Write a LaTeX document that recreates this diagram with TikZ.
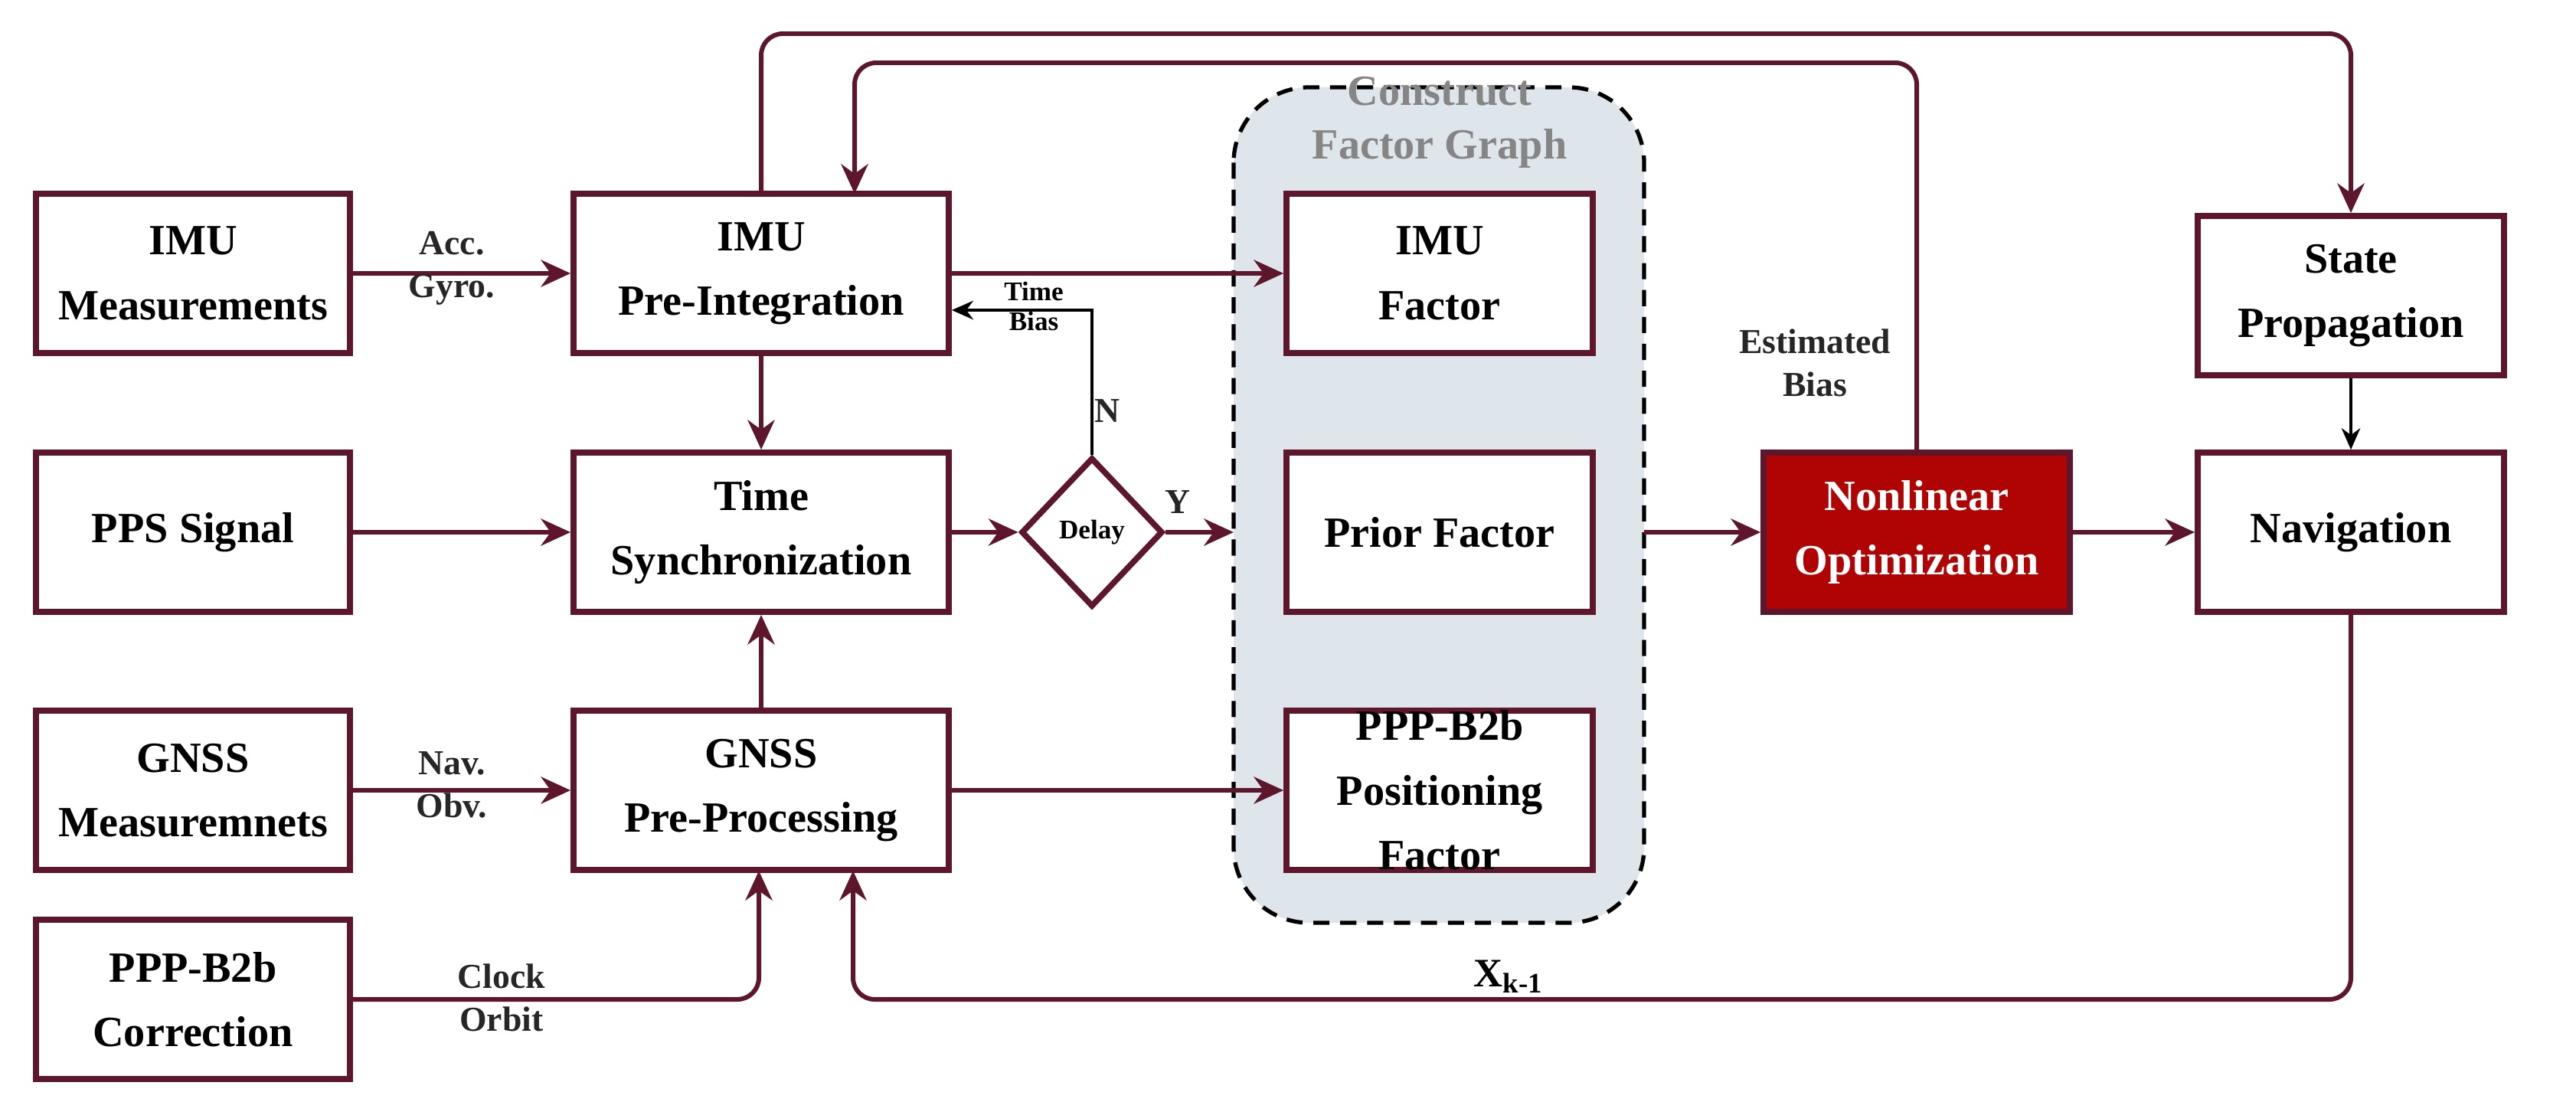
\documentclass[tikz,border=0pt]{standalone}
\usepackage{fontspec}
\setmainfont{Liberation Serif}
\usetikzlibrary{arrows.meta,shapes.geometric,backgrounds}
\definecolor{wine}{RGB}{94,22,44}
\definecolor{optred}{RGB}{176,4,4}
\definecolor{groupfill}{RGB}{222,230,236}

\begin{document}
\begin{tikzpicture}[
   box/.style={rectangle,draw=wine,line width=2.2pt,fill=white,minimum width=4.1cm,
    minimum height=2.08cm,align=center,font=\fontsize{16}{24}\selectfont\bfseries,inner sep=0pt},
   wide/.style={box,minimum width=4.9cm},
   fac/.style={box,minimum width=4.0cm},
   flow/.style={draw=wine,line width=1.7pt,-{Stealth[length=11pt,width=10pt]},rounded corners=8pt},
   lbl/.style={align=center,font=\fontsize{13}{16}\selectfont\bfseries,text=black!85}
    ]
  \useasboundingbox (0,0) rectangle (33.64,-14.55);

  % -- factor graph group
  \draw[dashed,line width=1.5pt,fill=groupfill,rounded corners=28pt,dash pattern=on 6pt off 4pt]
     (16.11,-1.14) rectangle (21.47,-12.05);
  \node[font=\fontsize{16}{20}\selectfont\bfseries,text=black!48,align=center] (title) at (18.8,-1.6)
     {Construct\\Factor Graph};

  % -- left column
  \node[box] (imumeas) at (2.52,-3.57) {IMU\\Measurements};
  \node[box] (pps) at (2.52,-6.95) {PPS Signal};
  \node[box] (gnssmeas) at (2.52,-10.32) {GNSS\\Measuremnets};
  \node[box] (corr) at (2.52,-13.05) {PPP-B2b\\Correction};

  % -- second column
  \node[wide] (preint) at (9.94,-3.57) {IMU\\Pre-Integration};
  \node[wide] (sync) at (9.94,-6.95) {Time\\Synchronization};
  \node[wide] (prep) at (9.94,-10.32) {GNSS\\Pre-Processing};
  \node[diamond,draw=wine,line width=2.2pt,fill=white,minimum width=1.85cm,minimum height=1.95cm,
     inner sep=0pt,font=\fontsize{10}{12}\selectfont\bfseries] (delay) at (14.26,-6.95) {Delay};

  % -- factors
  \node[fac] (imufac) at (18.8,-3.57) {IMU\\Factor};
  \node[fac] (prior) at (18.8,-6.95) {Prior Factor};
  \node[fac] (pppfac) at (18.8,-10.32) {PPP-B2b\\Positioning\\Factor};

  % -- right part
  \node[fac,fill=optred,text=white] (opt) at (25.03,-6.95) {Nonlinear\\Optimization};
  \node[fac] (prop) at (30.7,-3.86) {State\\Propagation};
  \node[fac] (nav) at (30.7,-6.95) {Navigation};

  \coordinate (gin) at (16.11,-6.95);
  \coordinate (gout) at (21.47,-6.95);

  % -- arrows
  \draw[flow] (imumeas) -- (preint);
  \draw[flow] (pps) -- (sync);
  \draw[flow] (gnssmeas) -- (prep);
  \draw[flow] (preint) -- (sync);
  \draw[flow] (prep.north -| sync) -- (sync);
  \draw[flow] (sync) -- (delay);
  \draw[flow] (delay) -- (gin);
  \draw[flow] (preint) -- (imufac);
  \draw[flow] (prep) -- (pppfac);
  \draw[flow] (gout) -- (opt);
  \draw[flow] (opt) -- (nav);
  \draw[flow] (corr.east) -- (9.91,-13.05) -- (9.91,-11.37);
  \draw[flow] (preint.north) -- (9.94,-0.44) -- (30.7,-0.44) -- (prop.north);
  \draw[flow] (opt.north) -- (25.03,-0.82) -- (11.16,-0.82) -- (11.16,-2.53);
  \draw[flow] (nav.south) -- (30.7,-13.05) -- (11.14,-13.05) -- (11.14,-11.37);
  \draw[-{Stealth[length=8pt,width=7pt]},line width=0.9pt] (delay.north) -- (14.26,-4.05) -- (preint.east |- 0,-4.05);
  \draw[-{Stealth[length=8pt,width=7pt]},line width=0.9pt] (prop) -- (nav);

  % -- labels
  \node[lbl] (accgyro) at (5.9,-3.5) {Acc.\\Gyro.};
  \node[lbl] (navobv) at (5.9,-10.25) {Nav.\\Obv.};
  \node[lbl] (clkorb) at (6.55,-13.03) {Clock\\Orbit};
  \node[align=center,font=\fontsize{10}{11}\selectfont\bfseries] (tbias) at (13.5,-4.0) {Time\\Bias};
  \node[lbl] (nlbl) at (14.46,-5.37) {N};
  \node[lbl] (ylbl) at (15.38,-6.56) {Y};
  \node[lbl] (estbias) at (23.7,-4.74) {Estimated\\Bias};
  \node[font=\fontsize{15}{18}\selectfont\bfseries] (xk) at (19.7,-12.75) {X\textsubscript{k-1}};
\end{tikzpicture}
\end{document}
